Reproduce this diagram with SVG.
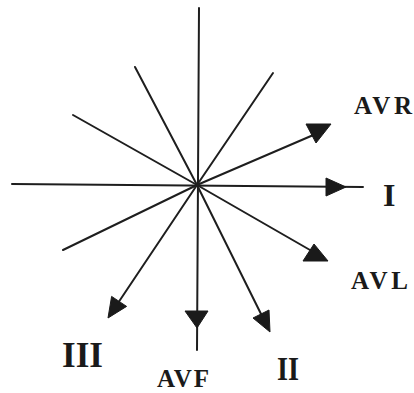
<svg xmlns="http://www.w3.org/2000/svg" width="414" height="393" viewBox="0 0 414 393">
<style>
.ln{stroke:#1e1e1e;stroke-width:2;fill:none;stroke-linecap:round}
.hd{fill:#1a1a1a;stroke:#1a1a1a;stroke-width:1;stroke-linejoin:round}
.lb{font-family:"Liberation Serif","Times New Roman",serif;font-weight:bold;fill:#1a1a1a}
</style>
<rect width="414" height="393" fill="#ffffff"/>
<g id="connectors">
<line class="ln" x1="199" y1="8" x2="197" y2="350"/>
<line class="ln" x1="12" y1="184" x2="363" y2="187"/>
<line class="ln" x1="197" y1="185" x2="73" y2="115"/>
<line class="ln" x1="197" y1="185" x2="135" y2="67"/>
<line class="ln" x1="197" y1="185" x2="273" y2="73"/>
<line class="ln" x1="197" y1="185" x2="63" y2="250"/>
<line class="ln" x1="197" y1="185" x2="318" y2="133"/>
<line class="ln" x1="197" y1="185" x2="310" y2="250"/>
<line class="ln" x1="197" y1="185" x2="114" y2="309"/>
<line class="ln" x1="197" y1="185" x2="265" y2="322"/>
<polygon class="hd" points="306,124 331,124 316,143"/>
<polygon class="hd" points="326,178 326,196 346,187"/>
<polygon class="hd" points="303,261 328,261 314,244"/>
<polygon class="hd" points="111.6,296.4 126.6,306.4 108,318"/>
<polygon class="hd" points="185,311 208,311 197,328"/>
<polygon class="hd" points="253,318 269,310 270,332"/>
</g>
<g id="lead-AVR"><text class="lb" x="354" y="114" font-size="25" textLength="58" lengthAdjust="spacing">AVR</text></g>
<g id="lead-I"><text class="lb" x="383" y="206" font-size="32">I</text></g>
<g id="lead-AVL"><text class="lb" x="351" y="289" font-size="25" textLength="57" lengthAdjust="spacing">AVL</text></g>
<g id="lead-III"><text class="lb" x="62" y="367" font-size="35" textLength="41" lengthAdjust="spacingAndGlyphs">III</text></g>
<g id="lead-AVF"><text class="lb" x="157" y="387" font-size="25" textLength="52" lengthAdjust="spacing">AVF</text></g>
<g id="lead-II"><text class="lb" x="277" y="380" font-size="34" textLength="22" lengthAdjust="spacingAndGlyphs">II</text></g>
</svg>
